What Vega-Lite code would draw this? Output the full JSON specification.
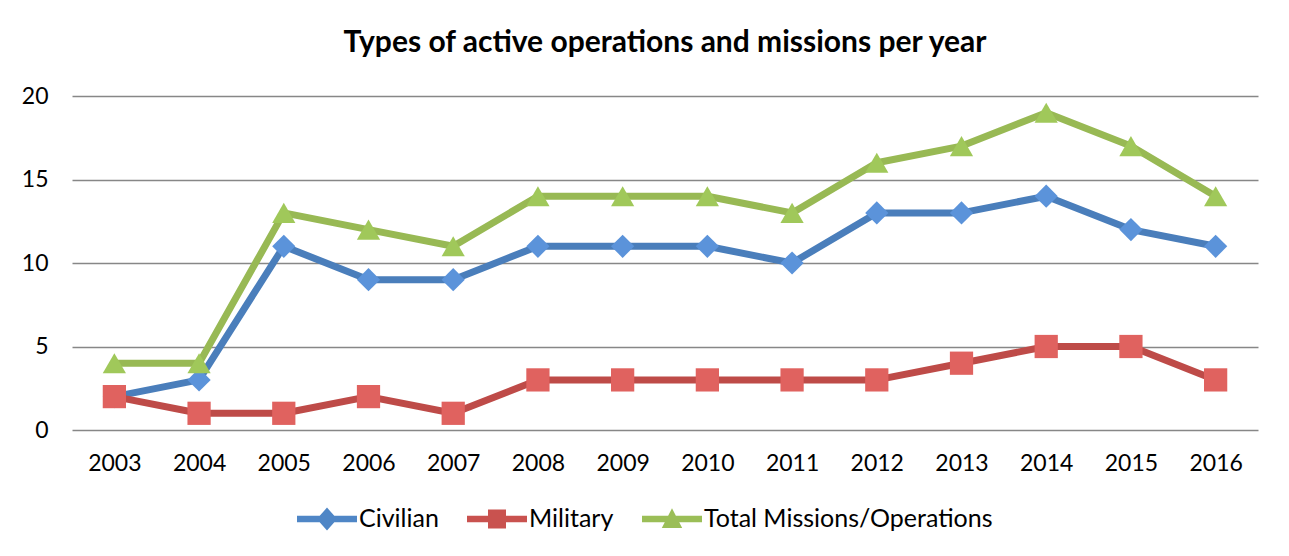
{
  "$schema": "https://vega.github.io/schema/vega-lite/v6.json",
  "width": 1186,
  "height": 334,
  "autosize": {"type": "none"},
  "padding": {"left": 72, "top": 96, "right": 31, "bottom": 126},
  "background": "white",
  "title": {
    "text": "Types of active operations and missions per year",
    "font": "Lato",
    "fontSize": 30,
    "fontWeight": "bold",
    "color": "#000000",
    "offset": 27,
    "anchor": "middle"
  },
  "config": {
    "view": {"stroke": null},
    "font": "Lato"
  },
  "data": {
    "values": [
      {"year": "2003", "series": "Civilian", "value": 2},
      {"year": "2004", "series": "Civilian", "value": 3},
      {"year": "2005", "series": "Civilian", "value": 11},
      {"year": "2006", "series": "Civilian", "value": 9},
      {"year": "2007", "series": "Civilian", "value": 9},
      {"year": "2008", "series": "Civilian", "value": 11},
      {"year": "2009", "series": "Civilian", "value": 11},
      {"year": "2010", "series": "Civilian", "value": 11},
      {"year": "2011", "series": "Civilian", "value": 10},
      {"year": "2012", "series": "Civilian", "value": 13},
      {"year": "2013", "series": "Civilian", "value": 13},
      {"year": "2014", "series": "Civilian", "value": 14},
      {"year": "2015", "series": "Civilian", "value": 12},
      {"year": "2016", "series": "Civilian", "value": 11},
      {"year": "2003", "series": "Military", "value": 2},
      {"year": "2004", "series": "Military", "value": 1},
      {"year": "2005", "series": "Military", "value": 1},
      {"year": "2006", "series": "Military", "value": 2},
      {"year": "2007", "series": "Military", "value": 1},
      {"year": "2008", "series": "Military", "value": 3},
      {"year": "2009", "series": "Military", "value": 3},
      {"year": "2010", "series": "Military", "value": 3},
      {"year": "2011", "series": "Military", "value": 3},
      {"year": "2012", "series": "Military", "value": 3},
      {"year": "2013", "series": "Military", "value": 4},
      {"year": "2014", "series": "Military", "value": 5},
      {"year": "2015", "series": "Military", "value": 5},
      {"year": "2016", "series": "Military", "value": 3},
      {"year": "2003", "series": "Total Missions/Operations", "value": 4},
      {"year": "2004", "series": "Total Missions/Operations", "value": 4},
      {"year": "2005", "series": "Total Missions/Operations", "value": 13},
      {"year": "2006", "series": "Total Missions/Operations", "value": 12},
      {"year": "2007", "series": "Total Missions/Operations", "value": 11},
      {"year": "2008", "series": "Total Missions/Operations", "value": 14},
      {"year": "2009", "series": "Total Missions/Operations", "value": 14},
      {"year": "2010", "series": "Total Missions/Operations", "value": 14},
      {"year": "2011", "series": "Total Missions/Operations", "value": 13},
      {"year": "2012", "series": "Total Missions/Operations", "value": 16},
      {"year": "2013", "series": "Total Missions/Operations", "value": 17},
      {"year": "2014", "series": "Total Missions/Operations", "value": 19},
      {"year": "2015", "series": "Total Missions/Operations", "value": 17},
      {"year": "2016", "series": "Total Missions/Operations", "value": 14}
    ]
  },
  "encoding": {
    "x": {
      "field": "year",
      "type": "ordinal",
      "title": null,
      "scale": {"type": "point", "padding": 0.5},
      "axis": {
        "labelAngle": 0,
        "labelFontSize": 23,
        "labelColor": "#000000",
        "labelPadding": 22,
        "domain": false,
        "ticks": false,
        "grid": false
      }
    },
    "y": {
      "field": "value",
      "type": "quantitative",
      "title": null,
      "scale": {"domain": [0, 20], "nice": false},
      "axis": {
        "values": [0, 5, 10, 15, 20],
        "labelFontSize": 23,
        "labelColor": "#000000",
        "labelPadding": 24,
        "domain": false,
        "ticks": false,
        "grid": true,
        "gridColor": "#878787",
        "gridWidth": 1.3,
        "gridOpacity": 1
      }
    }
  },
  "resolve": {
    "scale": {"shape": "independent", "color": "independent"},
    "legend": {"shape": "independent", "color": "independent", "fill": "independent", "stroke": "independent"}
  },
  "layer": [
    {
      "mark": {"type": "line", "strokeWidth": 7, "strokeCap": "round", "strokeJoin": "round"},
      "encoding": {
        "stroke": {
          "field": "series",
          "type": "nominal",
          "scale": {
            "domain": ["Civilian", "Military", "Total Missions/Operations"],
            "range": ["#4A7EBB", "#BE4B48", "#98B954"]
          },
          "legend": null
        }
      }
    },
    {
      "mark": {"type": "point", "filled": true, "opacity": 1, "size": 540},
      "encoding": {
        "fill": {
          "field": "series",
          "type": "nominal",
          "title": null,
          "scale": {
            "domain": ["Civilian", "Military", "Total Missions/Operations"],
            "range": ["#5B93DA", "#E0625F", "#A0C85A"]
          },
          "legend": null
        },
        "shape": {
          "field": "series",
          "type": "nominal",
          "title": null,
          "scale": {
            "domain": ["Civilian", "Military", "Total Missions/Operations"],
            "range": ["diamond", "square", "triangle-up"]
          },
          "legend": null
        }
      }
    },
    {
      "mark": {"type": "point", "filled": true, "opacity": 0, "size": 3600},
      "encoding": {
        "shape": {
          "field": "series",
          "type": "nominal",
          "title": null,
          "scale": {
            "domain": ["Civilian", "Military", "Total Missions/Operations"],
            "range": [
              "M-1,-0.11L1,-0.11L1,0.11L-1,0.11ZM-0.34,0L0,-0.38L0.34,0L0,0.38Z",
              "M-1,-0.11L1,-0.11L1,0.11L-1,0.11ZM-0.3,-0.32L0.3,-0.32L0.3,0.32L-0.3,0.32Z",
              "M-1,-0.11L1,-0.11L1,0.11L-1,0.11ZM0,-0.36L0.34,0.3L-0.34,0.3Z"
            ]
          },
          "legend": {
            "orient": "none",
            "legendX": 225,
            "legendY": 393,
            "direction": "horizontal",
            "labelFontSize": 25,
            "labelColor": "#000000",
            "labelLimit": 500,
            "symbolSize": 3600,
            "symbolOpacity": 1,
            "symbolStrokeWidth": 0,
            "columnPadding": 28,
            "labelOffset": 2,
            "encode": {
              "symbols": {
                "update": {
                  "fill": {"signal": "datum.value === 'Civilian' ? '#4F86C6' : datum.value === 'Military' ? '#C9524F' : '#9BBE57'"},
                  "opacity": {"value": 1}
                }
              }
            }
          }
        },
        "color": {
          "field": "series",
          "type": "nominal",
          "title": null,
          "scale": {
            "domain": ["Civilian", "Military", "Total Missions/Operations"],
            "range": ["#4F86C6", "#C9524F", "#9BBE57"]
          },
          "legend": {
            "orient": "none",
            "legendX": 225,
            "legendY": 393,
            "direction": "horizontal",
            "labelFontSize": 25,
            "labelColor": "#000000",
            "labelLimit": 500,
            "symbolSize": 3600,
            "symbolOpacity": 1,
            "symbolStrokeWidth": 0,
            "columnPadding": 28,
            "labelOffset": 2
          }
        }
      }
    }
  ]
}
